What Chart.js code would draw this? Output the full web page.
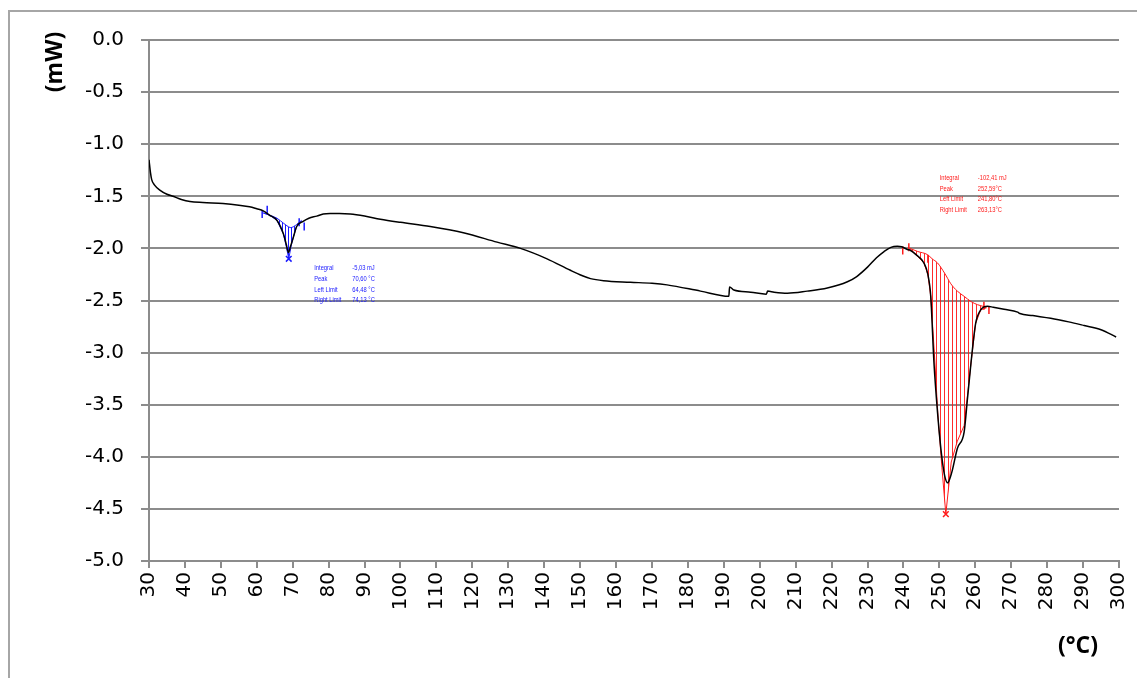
<!DOCTYPE html>
<html>
<head>
<meta charset="utf-8">
<script src="https://cdn.jsdelivr.net/npm/chart.js@4.4.1/dist/chart.umd.min.js"></script>
<style>
  html, body { margin: 0; padding: 0; background: #fff; }
  #wrap { position: relative; width: 1137px; height: 678px; overflow: hidden; }
  #frame { position: absolute; left: 8px; top: 10px; width: 1200px; height: 700px;
           border-left: 2px solid #a6a6a6; border-top: 2px solid #a6a6a6; }
  canvas { position: absolute; left: 0; top: 0; }
</style>
</head>
<body>
<div id="wrap">
  <div id="frame"></div>
  <canvas id="dsc" width="1147" height="678"></canvas>
</div>
<script>
// DSC trace: heat flow (mW) vs temperature (°C)

const curveT = [30, 30.4, 30.75, 31.5, 33, 35, 36.7, 39, 41.4, 45, 50.6, 55, 58, 60, 61.8, 63.5, 65.6, 67.4, 68.2, 68.8,
  69.4, 70.2, 71.1, 72.9, 74.5, 76.7, 78.5, 80.4, 83, 86, 90, 94.4, 100, 108.3, 117.5, 126.9, 133.4, 140.8, 147.3, 150.5,
  152.9, 156.5, 164, 170, 174.2, 183.5, 191.4, 191.6, 192.8, 197.5, 201.8, 202.2, 204, 207.7, 213.2, 218.8, 224.4, 227, 230, 232.5,
  234.6, 236.5, 238.3, 239.5, 241.1, 242, 243.5, 245.7, 246.8, 247.6, 248.5, 249.5, 250.2, 250.9, 251.6, 252.3, 253, 253.6, 255, 256.9,
  257.8, 258.8, 260.1, 261.5, 262.5, 263.4, 265, 268, 271.8, 272.4, 276, 281, 286, 290.3, 295, 299.2];
const curveMW = [-1.15, -1.27, -1.34, -1.39, -1.44, -1.48, -1.50, -1.53, -1.55, -1.56, -1.57, -1.585, -1.60, -1.62, -1.64, -1.68, -1.73, -1.86, -1.96, -2.04,
  -1.98, -1.89, -1.79, -1.74, -1.71, -1.69, -1.67, -1.665, -1.665, -1.67, -1.69, -1.72, -1.75, -1.79, -1.85, -1.94, -2.00, -2.10, -2.21, -2.26,
  -2.29, -2.31, -2.325, -2.335, -2.35, -2.41, -2.46, -2.37, -2.40, -2.42, -2.44, -2.41, -2.42, -2.43, -2.41, -2.38, -2.32, -2.27, -2.18, -2.09,
  -2.03, -1.99, -1.98, -1.985, -2.01, -2.02, -2.06, -2.14, -2.25, -2.46, -3.10, -3.58, -3.85, -4.06, -4.20, -4.25, -4.20, -4.13, -3.92, -3.76,
  -3.45, -3.10, -2.72, -2.59, -2.56, -2.555, -2.565, -2.585, -2.612, -2.625, -2.645, -2.67, -2.705, -2.74, -2.78, -2.85];

// first peak (blue) integration
const blueBaseT = [61.8, 63.5, 65.6, 67.5, 69.3, 70.3, 71.1, 72.5];
const blueBaseMW = [-1.66, -1.68, -1.71, -1.76, -1.80, -1.79, -1.77, -1.73];
const blueLowT = [61.8, 63.5, 65.6, 67.4, 68.2, 68.9, 69.6, 70.2, 71.1, 72.5];
const blueLowMW = [-1.66, -1.68, -1.73, -1.86, -1.98, -2.10, -1.97, -1.89, -1.79, -1.74];
const blueTickT = [61.5, 62.9, 71.8, 73.2];
const blueTickMW = [-1.67, -1.63, -1.75, -1.79];
const bluePeak = [68.9, -2.10];

// second peak (red) integration
const redBaseT = [241.8, 244, 246.7, 248, 249.5, 251.5, 253.2, 255, 256.9, 258.8, 260.6, 262.5, 263.1];
const redBaseMW = [-2.00, -2.03, -2.06, -2.10, -2.14, -2.24, -2.34, -2.41, -2.46, -2.51, -2.54, -2.56, -2.57];
const redLowT = [241.8, 243.5, 245.7, 246.8, 247.6, 248.6, 249.6, 250.7, 251.8, 253.3, 255, 256.9, 257.8, 258.8, 260.1, 261.5, 263.1];
const redLowMW = [-2.00, -2.06, -2.14, -2.25, -2.46, -3.00, -3.60, -4.10, -4.55, -4.05, -3.85, -3.70, -3.42, -3.10, -2.72, -2.59, -2.57];
const redTickT = [239.8, 241.5, 246.8, 262.4, 263.8];
const redTickMW = [-2.02, -1.99, -2.10, -2.55, -2.59];
const redPeak = [251.8, -4.55];

const blueNotes = [['Integral', '-5,03 mJ'], ['Peak', '70,60 °C'], ['Left Limit', '64,48 °C'], ['Right Limit', '74,13 °C']];
const redNotes = [['Integral', '-102,41 mJ'], ['Peak', '252,59°C'], ['Left Limit', '241,80°C'], ['Right Limit', '263,13°C']];

const xTicks = [30, 300, 10];    // min, max, step
const yTicks = [-5, 0, 0.5];

const GRID = '#8c8c8c';
const BLUE = '#1a1aff';
const RED = '#ff1a1a';

const zip = (xs, ys) => xs.map((x, i) => ({ x, y: ys[i] }));

function stripes(color, gap) {
  const c = document.createElement('canvas');
  c.width = gap; c.height = 4;
  const g = c.getContext('2d');
  g.fillStyle = color;
  g.fillRect(0, 0, 1, 4);
  return g.createPattern(c, 'repeat');
}

const notesPlugin = {
  id: 'notes',
  afterDatasetsDraw(chart) {
    const { ctx, scales: { x, y } } = chart;
    const drawBlock = (rows, t1, t2, mw, color, w1, w2) => {
      ctx.save();
      ctx.fillStyle = color;
      ctx.font = '8px "Liberation Sans", sans-serif';
      ctx.textBaseline = 'middle';
      ctx.textAlign = 'left';
      const px1 = x.getPixelForValue(t1), px2 = x.getPixelForValue(t2);
      let py = y.getPixelForValue(mw);
      rows.forEach(r => {
        ctx.fillText(r[0], px1, py, ctx.measureText(r[0]).width * w1);
        ctx.fillText(r[1], px2, py, ctx.measureText(r[1]).width * w2);
        py += 10.6;
      });
      ctx.restore();
    };
    drawBlock(blueNotes, 76.0, 86.6, -2.19, BLUE, 0.72, 0.72);
    drawBlock(redNotes, 250.1, 260.7, -1.325, RED, 0.72, 0.72);

    ctx.save();
    ctx.fillStyle = '#000';
    ctx.font = 'bold 23px "Open Sans", sans-serif';
    ctx.textAlign = 'center';
    ctx.textBaseline = 'middle';
    ctx.translate(55, 62);
    ctx.rotate(-Math.PI / 2);
    ctx.fillText('(mW)', 0, 0);
    ctx.restore();

    ctx.save();
    ctx.fillStyle = '#000';
    ctx.font = 'bold 23px "Open Sans", sans-serif';
    ctx.textAlign = 'center';
    ctx.textBaseline = 'middle';
    ctx.fillText('(°C)', 1078, 646);
    ctx.restore();
  }
};

const marks = (data, color, style, rot, r) => ({
  data, showLine: false, pointStyle: style, rotation: rot, pointRadius: r,
  pointBorderColor: color, pointBackgroundColor: color, pointBorderWidth: 1.5, borderColor: color
});

new Chart(document.getElementById('dsc'), {
  type: 'line',
  data: {
    datasets: [
      { data: zip(curveT, curveMW), borderColor: '#000', borderWidth: 1.5, pointRadius: 0,
        cubicInterpolationMode: 'monotone', fill: false },
      { data: zip(blueBaseT, blueBaseMW), borderColor: BLUE, borderWidth: 1, pointRadius: 0,
        tension: 0.3, fill: '+1', backgroundColor: stripes(BLUE, 3) },
      { data: zip(blueLowT, blueLowMW), borderColor: BLUE, borderWidth: 1, pointRadius: 0, fill: false },
      { data: zip(redBaseT, redBaseMW), borderColor: RED, borderWidth: 1, pointRadius: 0,
        cubicInterpolationMode: 'monotone', fill: '+1', backgroundColor: stripes('rgba(255,20,20,0.9)', 4) },
      { data: zip(redLowT, redLowMW), borderColor: RED, borderWidth: 1, pointRadius: 0, fill: false },
      marks(zip(blueTickT, blueTickMW), BLUE, 'line', 90, 4),
      marks(zip(redTickT, redTickMW), RED, 'line', 90, 4),
      marks([{ x: bluePeak[0], y: bluePeak[1] }], BLUE, 'crossRot', 0, 4),
      marks([{ x: redPeak[0], y: redPeak[1] }], RED, 'crossRot', 0, 4)
    ]
  },
  options: {
    responsive: false,
    animation: false,
    events: [],
    layout: { padding: { top: 40, right: 9, left: 0, bottom: 0 } },
    plugins: { legend: { display: false }, tooltip: { enabled: false } },
    scales: {
      x: {
        type: 'linear', min: xTicks[0], max: xTicks[1],
        afterFit: s => { s.height = 117; },
        ticks: { stepSize: xTicks[2], autoSkip: false, minRotation: 90, maxRotation: 90, padding: 4,
                 color: '#000', font: { family: '"DejaVu Sans"', size: 20 } },
        grid: { drawOnChartArea: false, drawTicks: true, tickLength: 7, color: GRID, lineWidth: 2 },
        border: { color: GRID, width: 2 }
      },
      y: {
        min: yTicks[0], max: yTicks[1],
        afterFit: s => { s.width = 149; },
        ticks: { stepSize: yTicks[2], padding: 17, color: '#000',
                 font: { family: '"DejaVu Sans"', size: 20 }, callback: v => v.toFixed(1) },
        grid: { color: GRID, lineWidth: 2, tickLength: 8 },
        border: { color: GRID, width: 2 }
      }
    }
  },
  plugins: [notesPlugin]
});
</script>
</body>
</html>
